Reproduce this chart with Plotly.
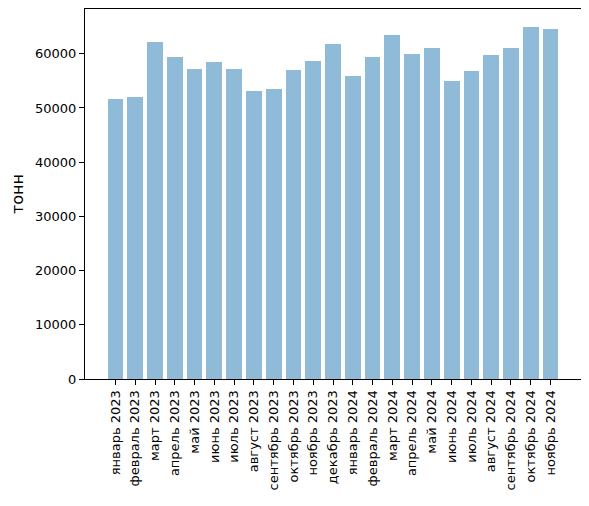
import plotly.graph_objects as go

months = ["январь 2023", "февраль 2023", "март 2023", "апрель 2023", "май 2023", "июнь 2023",
          "июль 2023", "август 2023", "сентябрь 2023", "октябрь 2023", "ноябрь 2023", "декабрь 2023",
          "январь 2024", "февраль 2024", "март 2024", "апрель 2024", "май 2024", "июнь 2024",
          "июль 2024", "август 2024", "сентябрь 2024", "октябрь 2024", "ноябрь 2024"]
values = [51700, 52000, 62200, 59400, 57200, 58500, 57200, 53200, 53500, 57000, 58700, 61800,
          55900, 59400, 63500, 60000, 61100, 55000, 56900, 59800, 61100, 65000, 64600]
y_ticks = [0, 10000, 20000, 30000, 40000, 50000, 60000]

x = list(range(len(months)))
fig = go.Figure(go.Bar(x=x, y=values, width=0.8,
                       marker=dict(color="rgba(31,119,180,0.5)", line=dict(width=0))))

n = len(months)
xr = [-0.4 - 0.05 * (n - 1 + 0.8), n - 1 + 0.4 + 0.05 * (n - 1 + 0.8)]
ymax = max(values) * 1.05

# page body has an 8px default margin, so the figure is sized to fit inside the window
fig.update_layout(
    width=581, height=498,
    margin=dict(l=77, r=8, t=1, b=127),
    plot_bgcolor="white", paper_bgcolor="white",
    font=dict(family="DejaVu Sans", size=13, color="black"),
    showlegend=False,
    bargap=0,
)
fig.update_xaxes(range=xr, tickmode="array", tickvals=x, ticktext=months, tickangle=-90,
                 showline=True, linecolor="black", linewidth=1, mirror=True, automargin=False,
                 ticks="outside", ticklen=5, tickcolor="black", showgrid=False, zeroline=False)
fig.update_yaxes(range=[0, ymax], tickmode="array", tickvals=y_ticks,
                 ticktext=[str(v) for v in y_ticks], automargin=False,
                 showline=True, linecolor="black", linewidth=1, mirror=True,
                 ticks="outside", ticklen=5, tickcolor="black", showgrid=False, zeroline=False,
                 title=dict(text="тонн", standoff=8))
fig.write_html("out.html")
